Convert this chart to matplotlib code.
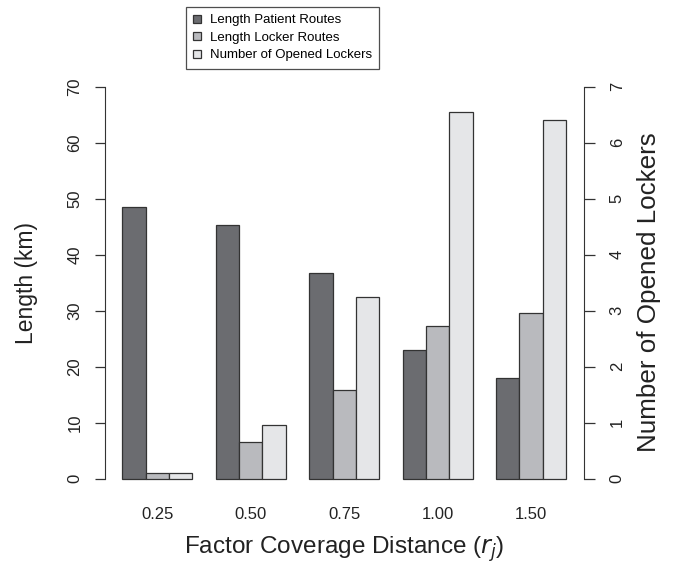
import matplotlib
matplotlib.use("Agg")
import matplotlib.pyplot as plt
from matplotlib.patches import Patch

plt.rcParams['font.family'] = ['Liberation Sans', 'DejaVu Sans']

# === DATA ===
categories = ["0.25", "0.50", "0.75", "1.00", "1.50"]
patient_routes = [48.6, 45.3, 36.8, 22.9, 18.0]   # km
locker_routes = [1.0, 6.5, 15.8, 27.3, 29.6]      # km
opened_lockers = [0.1, 0.96, 3.24, 6.54, 6.4]     # count (right axis)

series_names = ["Length Patient Routes", "Length Locker Routes", "Number of Opened Lockers"]
colors = ["#6b6c70", "#b9babe", "#e5e6e8"]
edge = "#333333"
txt = "#222222"

# R barplot style: 3 bars per group, one bar width gap before each group
n = len(categories)
starts = [1 + 4 * i for i in range(n)]

fig = plt.figure(figsize=(6.84, 5.64), dpi=100)
ax = fig.add_axes([0.1528, 0.1234, 0.7009, 0.7507])

ax.bar(starts, patient_routes, width=1, align="edge",
       color=colors[0], edgecolor=edge, linewidth=0.9)
ax.bar([s + 1 for s in starts], locker_routes, width=1, align="edge",
       color=colors[1], edgecolor=edge, linewidth=0.9)

ax.set_xlim(0.24, 20.76)
ax.set_ylim(-2.8, 72.8)

ax2 = ax.twinx()
ax2.set_ylim(-0.28, 7.28)
ax2.bar([s + 2 for s in starts], opened_lockers, width=1, align="edge",
        color=colors[2], edgecolor=edge, linewidth=0.9)

for a in (ax, ax2):
    for sp in ("top", "bottom"):
        a.spines[sp].set_visible(False)
ax.spines["right"].set_visible(False)
ax2.spines["left"].set_visible(False)
ax.spines["left"].set_bounds(0, 70)
ax2.spines["right"].set_bounds(0, 7)
ax.spines["left"].set_color(edge)
ax2.spines["right"].set_color(edge)

ax.set_yticks(range(0, 71, 10))
ax2.set_yticks(range(0, 8))
ax.tick_params(axis="y", direction="out", length=7, width=0.9, color=edge,
               labelsize=12, pad=9, labelrotation=90, labelcolor=txt)
ax2.tick_params(axis="y", direction="out", length=8, width=0.9, color=edge,
                labelsize=12, pad=10.5, labelrotation=90, labelcolor=txt)
for lbl in ax.get_yticklabels() + ax2.get_yticklabels():
    lbl.set_verticalalignment("center")

ax.set_xticks([s + 1.5 for s in starts])
ax.set_xticklabels(categories)
ax.tick_params(axis="x", length=0, labelsize=12, pad=9, labelcolor=txt)

ax.set_xlabel("Factor Coverage Distance ($r_j$)", fontsize=17.5, labelpad=9, color=txt)
ax.set_ylabel("Length (km)", fontsize=16.5, labelpad=21, color=txt)
ax2.set_ylabel("Number of Opened Lockers", fontsize=18.7, labelpad=11, color=txt)
ax2.yaxis.set_label_coords(1.11, 0.478)

handles = [Patch(facecolor=c, edgecolor=edge, linewidth=0.9) for c in colors]
leg = fig.legend(handles, series_names, loc="upper left",
                 bbox_to_anchor=(186 / 684, 1 - 7 / 564), fontsize=9.5,
                 frameon=True, fancybox=False, handlelength=0.55, handleheight=0.55,
                 handletextpad=0.7, labelspacing=0.42, borderpad=0.55,
                 borderaxespad=0)
leg.get_frame().set_edgecolor(txt)
leg.get_frame().set_linewidth(0.9)

fig.savefig("out.png", dpi=100)
